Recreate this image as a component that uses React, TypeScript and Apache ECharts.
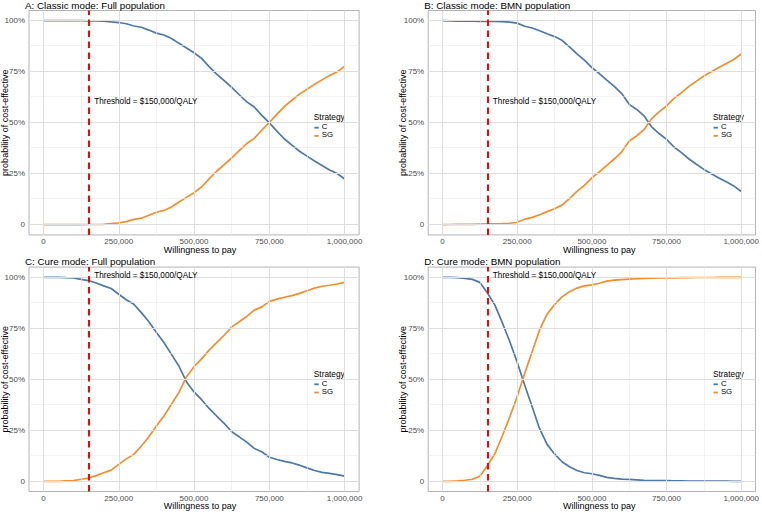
import React, { useEffect, useRef } from "react";
import * as echarts from "echarts";

// ---------- data ----------
const wtp = [
  0, 25000, 50000, 75000, 100000, 125000, 150000, 175000, 200000, 225000,
  250000, 275000, 300000, 325000, 350000, 375000, 400000, 425000, 450000, 475000,
  500000, 525000, 550000, 575000, 600000, 625000, 650000, 675000, 700000, 725000,
  750000, 775000, 800000, 825000, 850000, 875000, 900000, 925000, 950000, 975000,
  1000000,
];

const panelTitles = [
  "A: Classic mode: Full population",
  "B: Classic mode: BMN population",
  "C: Cure mode: Full population",
  "D: Cure mode: BMN population",
];

const strategyNames = ["C", "SG"];

// probability (%) that each strategy is cost-effective
const cA = [100, 100, 100, 100, 100, 100, 99.9, 99.9, 99.8, 99.4, 99.1, 98.5, 97.4, 96.8, 95.4, 93.9, 93.0, 91.3, 88.9, 86.6, 84.3, 81.5, 77.5, 73.8, 70.6, 67.3, 63.7, 60.2, 57.7, 53.6, 49.9, 45.9, 42.0, 39.0, 36.0, 33.6, 31.2, 29.0, 26.8, 25.1, 22.4];
const sgA = [0, 0, 0, 0, 0, 0, 0.1, 0.1, 0.2, 0.6, 0.9, 1.5, 2.6, 3.2, 4.6, 6.1, 7.0, 8.7, 11.1, 13.4, 15.7, 18.5, 22.5, 26.2, 29.4, 32.7, 36.3, 39.8, 42.3, 46.4, 50.1, 54.1, 58.0, 61.0, 64.0, 66.4, 68.8, 71.0, 73.2, 74.9, 77.6];

const cB = [100, 99.9, 99.8, 99.8, 99.8, 99.7, 99.6, 99.6, 99.5, 99.3, 98.8, 97.3, 96.4, 95.1, 93.6, 92.2, 90.4, 87.2, 83.7, 80.7, 77.0, 74.1, 70.9, 67.8, 64.3, 59.0, 56.5, 53.3, 48.0, 44.7, 41.8, 38.1, 35.3, 32.2, 29.6, 27.1, 25.0, 22.9, 21.0, 19.0, 16.3];
const sgB = [0, 0.1, 0.2, 0.2, 0.2, 0.3, 0.4, 0.4, 0.5, 0.7, 1.2, 2.7, 3.6, 4.9, 6.4, 7.8, 9.6, 12.8, 16.3, 19.3, 23.0, 25.9, 29.1, 32.2, 35.7, 41.0, 43.5, 46.7, 52.0, 55.3, 58.2, 61.9, 64.7, 67.8, 70.4, 72.9, 75.0, 77.1, 79.0, 81.0, 83.7];

const cC = [100, 100, 100, 99.8, 99.7, 99.0, 98.4, 97.2, 95.8, 94.5, 91.7, 89.0, 86.8, 82.7, 78.2, 72.9, 68.0, 62.2, 56.4, 48.7, 43.8, 40.0, 35.7, 32.0, 28.4, 24.3, 21.8, 19.2, 16.1, 14.5, 11.8, 10.7, 9.8, 9.0, 7.9, 6.6, 5.3, 4.4, 3.9, 3.3, 2.5];
const sgC = [0, 0, 0, 0.2, 0.3, 1.0, 1.6, 2.8, 4.2, 5.5, 8.3, 11.0, 13.2, 17.3, 21.8, 27.1, 32.0, 37.8, 43.6, 51.3, 56.2, 60.0, 64.3, 68.0, 71.6, 75.7, 78.2, 80.8, 83.9, 85.5, 88.2, 89.3, 90.2, 91.0, 92.1, 93.4, 94.7, 95.6, 96.1, 96.7, 97.5];

const cD = [100, 100, 99.8, 99.5, 99.0, 97.5, 92.4, 86.5, 77.8, 68.5, 58.4, 47.2, 36.5, 25.8, 18.1, 13.4, 9.6, 7.1, 5.3, 4.2, 3.7, 2.9, 1.9, 1.4, 1.1, 0.9, 0.7, 0.5, 0.4, 0.35, 0.3, 0.25, 0.2, 0.15, 0.1, 0.1, 0.1, 0.05, 0.05, 0, 0];
const sgD = [0, 0, 0.2, 0.5, 1.0, 2.5, 7.6, 13.5, 22.2, 31.5, 41.6, 52.8, 63.5, 74.2, 81.9, 86.6, 90.4, 92.9, 94.7, 95.8, 96.3, 97.1, 98.1, 98.6, 98.9, 99.1, 99.3, 99.5, 99.6, 99.65, 99.7, 99.75, 99.8, 99.85, 99.9, 99.9, 99.9, 99.95, 99.95, 100, 100];

const thresholdWtp = 150000;
const thresholdLabel = "Threshold = $150,000/QALY";

const xTicks = [0, 250000, 500000, 750000, 1000000];
const xTickLabels = ["0", "250,000", "500,000", "750,000", "1,000,000"];
const xMinor = [125000, 375000, 625000, 875000];
const yTicks = [0, 0.25, 0.5, 0.75, 1];
const yTickLabels = ["0", "25%", "50%", "75%", "100%"];
const yMinor = [0.125, 0.375, 0.625, 0.875];

const xTitle = "Willingness to pay";
const yTitle = "probability of cost-effective";
const legendTitle = "Strategy";

// ---------- styling / layout ----------
const FONT = '"Liberation Sans", Arial, Helvetica, sans-serif';
const BLUE = "#4E79A7";
const ORANGE = "#F28E2B";
const W = 330.1;
const H = 224.4;

const panels = [
  { title: panelTitles[0], c: cA, sg: sgA, left: 29.0, top: 10.5, titleY: 5.0, yTitleX: 5.2, labelY: 0.604 },
  { title: panelTitles[1], c: cB, sg: sgB, left: 428.2, top: 10.5, titleY: 5.0, yTitleX: 402.5, labelY: 0.603 },
  { title: panelTitles[2], c: cC, sg: sgC, left: 29.0, top: 267.1, titleY: 261.3, yTitleX: 5.2, labelY: 1.011 },
  { title: panelTitles[3], c: cD, sg: sgD, left: 428.2, top: 267.1, titleY: 261.3, yTitleX: 402.5, labelY: 1.011 },
];

function buildOption() {
  const grid: any[] = [];
  const xAxis: any[] = [];
  const yAxis: any[] = [];
  const series: any[] = [];
  const graphic: any[] = [];

  panels.forEach((p, i) => {
    grid.push({
      left: p.left,
      top: p.top,
      width: W,
      height: H,
      show: true,
      borderColor: "#b3b3b3",
      borderWidth: 1,
      backgroundColor: "#ffffff",
      containLabel: false,
    });
    xAxis.push({
      type: "value",
      gridIndex: i,
      min: -48000,
      max: 1048000,
      axisLine: { show: false },
      splitLine: { show: false },
      axisTick: {
        show: true,
        customValues: xTicks,
        length: 2.3,
        lineStyle: { color: "#b3b3b3", width: 1 },
      },
      axisLabel: {
        customValues: xTicks,
        formatter: (v: number) => {
          const k = xTicks.indexOf(v);
          return k >= 0 ? xTickLabels[k] : "";
        },
        color: "#4d4d4d",
        fontSize: 8,
        fontFamily: FONT,
        margin: 2.5,
        hideOverlap: false,
      },
    });
    yAxis.push({
      type: "value",
      gridIndex: i,
      min: -0.05,
      max: 1.05,
      axisLine: { show: false },
      splitLine: { show: false },
      axisTick: {
        show: true,
        customValues: yTicks,
        length: 2.3,
        lineStyle: { color: "#b3b3b3", width: 1 },
      },
      axisLabel: {
        customValues: yTicks,
        formatter: (v: number) => {
          const k = yTicks.indexOf(v);
          return k >= 0 ? yTickLabels[k] : "";
        },
        color: "#4d4d4d",
        fontSize: 8,
        fontFamily: FONT,
        margin: 4,
        hideOverlap: false,
      },
    });

    // grid lines
    series.push({
      type: "line",
      xAxisIndex: i,
      yAxisIndex: i,
      data: [],
      silent: true,
      z: 1,
      markLine: {
        silent: true,
        symbol: ["none", "none"],
        label: { show: false },
        lineStyle: { type: "solid" },
        emphasis: { disabled: true },
        data: [
          ...yMinor.map((v) => ({ yAxis: v, lineStyle: { color: "#e9e9e9", width: 0.6, type: "solid" } })),
          ...xMinor.map((v) => ({ xAxis: v, lineStyle: { color: "#e9e9e9", width: 0.6, type: "solid" } })),
          ...yTicks.map((v) => ({ yAxis: v, lineStyle: { color: "#dedede", width: 1, type: "solid" } })),
          ...xTicks.map((v) => ({ xAxis: v, lineStyle: { color: "#dedede", width: 1, type: "solid" } })),
        ],
      },
    });

    // strategy curves
    series.push({
      name: strategyNames[0],
      type: "line",
      xAxisIndex: i,
      yAxisIndex: i,
      showSymbol: false,
      symbol: "none",
      silent: true,
      z: 3,
      data: wtp.map((x, k) => [x, p.c[k] / 100]),
      lineStyle: { color: BLUE, width: 1.7 },
      itemStyle: { color: BLUE },
    });
    series.push({
      name: strategyNames[1],
      type: "line",
      xAxisIndex: i,
      yAxisIndex: i,
      showSymbol: false,
      symbol: "none",
      silent: true,
      z: 3,
      data: wtp.map((x, k) => [x, p.sg[k] / 100]),
      lineStyle: { color: ORANGE, width: 1.7 },
      itemStyle: { color: ORANGE },
    });

    // threshold
    series.push({
      type: "line",
      xAxisIndex: i,
      yAxisIndex: i,
      data: [],
      silent: true,
      z: 5,
      markLine: {
        silent: true,
        symbol: ["none", "none"],
        label: { show: false },
        emphasis: { disabled: true },
        lineStyle: { color: "#ff0000", width: 2, type: [6.5, 4.5] },
        data: [{ xAxis: thresholdWtp }],
      },
      markPoint: {
        silent: true,
        symbol: "circle",
        symbolSize: 1,
        itemStyle: { color: "rgba(0,0,0,0)" },
        label: {
          show: true,
          position: "right",
          distance: 5,
          formatter: thresholdLabel,
          color: "#000000",
          fontSize: 8.2,
          fontFamily: FONT,
        },
        data: [{ coord: [thresholdWtp, p.labelY] }],
      },
    });

    // panel title
    graphic.push({
      type: "text",
      x: p.left - 4,
      y: p.titleY,
      silent: true,
      style: {
        text: p.title,
        fill: "#000000",
        fontSize: 9.8,
        fontFamily: FONT,
        align: "left",
        verticalAlign: "middle",
      },
    });
    // x title
    graphic.push({
      type: "text",
      x: p.left + W / 2 + 6,
      y: p.top + H + 14.6,
      silent: true,
      style: {
        text: xTitle,
        fill: "#000000",
        fontSize: 9,
        fontFamily: FONT,
        align: "center",
        verticalAlign: "middle",
      },
    });
    // y title
    graphic.push({
      type: "text",
      x: p.yTitleX,
      y: p.top + H / 2,
      rotation: Math.PI / 2,
      silent: true,
      style: {
        text: yTitle,
        fill: "#000000",
        fontSize: 9,
        fontFamily: FONT,
        align: "center",
        verticalAlign: "middle",
      },
    });
    // legend
    const lx = p.left + 285.3;
    const ly = p.top;
    graphic.push({
      type: "text",
      x: lx - 0.5,
      y: ly + 106.8,
      silent: true,
      style: { text: legendTitle, fill: "#000", fontSize: 8.3, fontFamily: FONT, align: "left", verticalAlign: "middle" },
    });
    [BLUE, ORANGE].forEach((col, k) => {
      graphic.push({
        type: "line",
        silent: true,
        shape: { x1: lx, y1: ly + 117.2 + k * 8.2, x2: lx + 4.4, y2: ly + 117.2 + k * 8.2 },
        style: { stroke: col, lineWidth: 1.8 },
      });
      graphic.push({
        type: "text",
        x: lx + 7.4,
        y: ly + 116 + k * 8.2,
        silent: true,
        style: { text: strategyNames[k], fill: "#000", fontSize: 7.8, fontFamily: FONT, align: "left", verticalAlign: "middle" },
      });
    });
  });

  return {
    animation: false,
    backgroundColor: "#ffffff",
    grid,
    xAxis,
    yAxis,
    series,
    graphic,
  };
}

export default function App() {
  const ref = useRef<HTMLDivElement>(null);
  useEffect(() => {
    if (!ref.current) return;
    const chart = echarts.init(ref.current, null, { renderer: "svg" });
    chart.setOption(buildOption() as any);
    return () => chart.dispose();
  }, []);
  return (
    <div
      ref={ref}
      style={{ position: "fixed", left: 0, top: 0, width: 762, height: 513, background: "#fff" }}
    />
  );
}
